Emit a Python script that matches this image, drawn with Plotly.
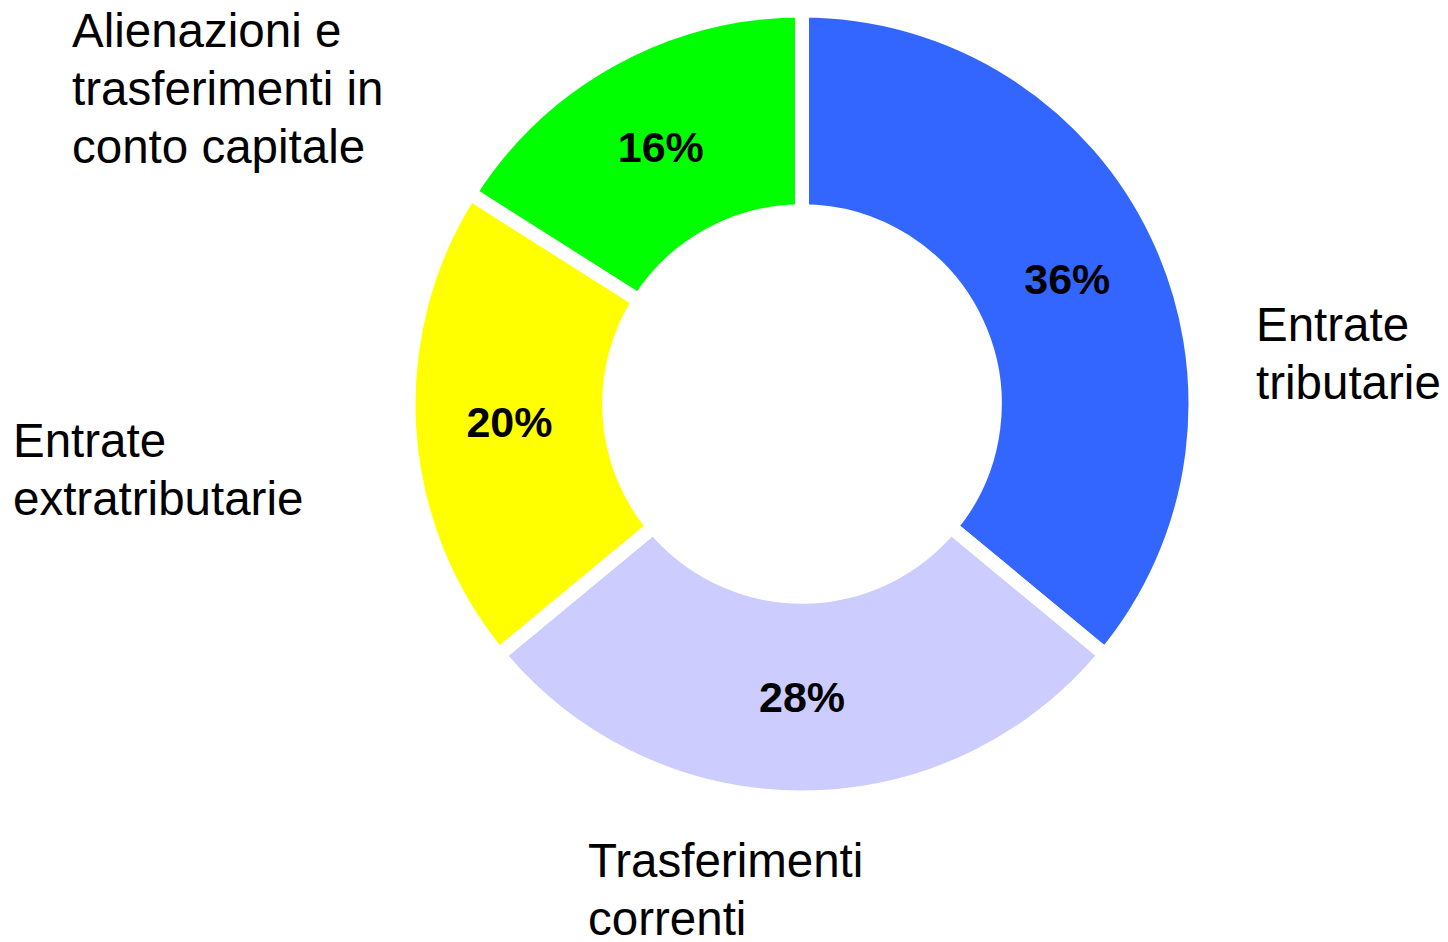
import plotly.graph_objects as go

W, H = 1448, 942

categories = [
    "Entrate tributarie",
    "Trasferimenti correnti",
    "Entrate extratributarie",
    "Alienazioni e trasferimenti in conto capitale",
]
values = [36, 28, 20, 16]
colors = ["#3366FF", "#CCCCFF", "#FFFF00", "#00FF00"]

# outside labels, one entry per text line
label_lines = [
    ["Entrate", "tributarie"],
    ["Trasferimenti", "correnti"],
    ["Entrate", "extratributarie"],
    ["Alienazioni e", "trasferimenti in", "conto capitale"],
]
# left edge and cap-top of the first line, in pixels
label_pos = [(1257, 308), (589, 844), (14, 424), (73, 14)]
LINE_GAP = 58

FONT = "Liberation Sans, Arial, sans-serif"
LABEL_SIZE = 47.5

# the page adds an 8px body margin, so shift everything back
OFF = 8

# pie centre and radius in pixels
cx, cy, r = 802 - OFF, 403 - 7, 393.5

fig = go.Figure()

fig.add_trace(
    go.Pie(
        labels=categories,
        values=values,
        sort=False,
        direction="clockwise",
        rotation=0,
        hole=0.49,
        marker=dict(colors=colors, line=dict(color="white", width=14)),
        textinfo="percent",
        texttemplate="<b>%{percent:.0%}</b>",
        textposition="inside",
        insidetextorientation="horizontal",
        textfont=dict(family=FONT, size=43, color="black"),
        domain=dict(
            x=[(cx - r) / W, (cx + r) / W],
            y=[(H - cy - r) / H, (H - cy + r) / H],
        ),
        showlegend=False,
        hoverinfo="label+percent",
    )
)

for lines, (lx, ly) in zip(label_lines, label_pos):
    for i, txt in enumerate(lines):
        top = ly + i * LINE_GAP - 12 - OFF
        fig.add_annotation(
            text=txt,
            x=(lx - 3 - OFF) / W,
            y=1 - top / H,
            xref="paper",
            yref="paper",
            xanchor="left",
            yanchor="top",
            align="left",
            showarrow=False,
            font=dict(family=FONT, size=LABEL_SIZE, color="black"),
        )

fig.update_layout(
    width=W,
    height=H,
    margin=dict(l=0, r=0, t=0, b=0),
    paper_bgcolor="white",
    plot_bgcolor="white",
    font=dict(family=FONT),
)

fig.write_html("out.html")
